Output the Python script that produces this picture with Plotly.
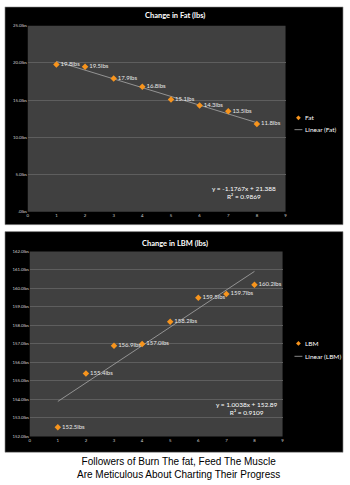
import plotly.graph_objects as go

W, H = 350, 485

# ---- data ----
weeks = [1, 2, 3, 4, 5, 6, 7, 8]
fat = [19.8, 19.5, 17.9, 16.8, 15.1, 14.3, 13.5, 11.8]
lbm = [152.5, 155.4, 156.9, 157.0, 158.2, 159.5, 159.7, 160.2]
fat_labels = ["19.8lbs", "19.5lbs", "17.9lbs", "16.8lbs", "15.1lbs", "14.3lbs", "13.5lbs", "11.8lbs"]
lbm_labels = ["152.5lbs", "155.4lbs", "156.9lbs", "157.0lbs", "158.2lbs", "159.5lbs", "159.7lbs", "160.2lbs"]
fat_fit = [-1.1767, 21.388]   # slope, intercept
lbm_fit = [1.0038, 152.89]
fat_r2 = "0.9869"
lbm_r2 = "0.9109"
x_ticks = [0, 1, 2, 3, 4, 5, 6, 7, 8, 9]
fat_yticks = [0, 5, 10, 15, 20, 25]
fat_yticktext = [".0lbs", "5.0lbs", "10.0lbs", "15.0lbs", "20.0lbs", "25.0lbs"]
lbm_yticks = [152, 153, 154, 155, 156, 157, 158, 159, 160, 161, 162]
lbm_yticktext = ["152.0lbs", "153.0lbs", "154.0lbs", "155.0lbs", "156.0lbs", "157.0lbs",
                 "158.0lbs", "159.0lbs", "160.0lbs", "161.0lbs", "162.0lbs"]

ORANGE = "#F7941D"
FONT = "Lato"


def px(x):
    return x / W


def py(y):
    return 1 - y / H


fig = go.Figure()

fit_x = [weeks[0], weeks[-1]]

# top chart
fig.add_trace(go.Scatter(x=fit_x, y=[fat_fit[0] * v + fat_fit[1] for v in fit_x], mode="lines",
                         line=dict(color="#a8a8a8", width=0.8), xaxis="x", yaxis="y",
                         showlegend=False, hoverinfo="skip"))
fig.add_trace(go.Scatter(x=weeks, y=fat, mode="markers+text", text=fat_labels,
                         textposition="middle right",
                         textfont=dict(family=FONT, size=6, color="#e8e8e8"),
                         marker=dict(symbol="diamond", size=5, color=ORANGE),
                         xaxis="x", yaxis="y", showlegend=False))
# bottom chart
fig.add_trace(go.Scatter(x=fit_x, y=[lbm_fit[0] * v + lbm_fit[1] for v in fit_x], mode="lines",
                         line=dict(color="#a8a8a8", width=0.8), xaxis="x2", yaxis="y2",
                         showlegend=False, hoverinfo="skip"))
fig.add_trace(go.Scatter(x=weeks, y=lbm, mode="markers+text", text=lbm_labels,
                         textposition="middle right",
                         textfont=dict(family=FONT, size=6, color="#e8e8e8"),
                         marker=dict(symbol="diamond", size=5, color=ORANGE),
                         xaxis="x2", yaxis="y2", showlegend=False))

shapes = []
# black panels
for (x0, y0, x1, y1) in [(4, 5, 345, 225), (4, 232, 345, 455)]:
    shapes.append(dict(type="rect", xref="paper", yref="paper", x0=px(x0), x1=px(x1),
                       y0=py(y1), y1=py(y0), fillcolor="#000000",
                       line=dict(color="#9a9a9a", width=0.6), layer="below"))
# gray plot areas
for (x0, y0, x1, y1) in [(27, 24, 287, 212), (29, 252, 284, 439)]:
    shapes.append(dict(type="rect", xref="paper", yref="paper", x0=px(x0), x1=px(x1),
                       y0=py(y1), y1=py(y0), fillcolor="#404040",
                       line=dict(width=0), layer="below"))

annotations = []


def legend(ymark, yline, name):
    # diamond marker
    cx, cy, r = 300, ymark, 2.4
    path = "M {} {} L {} {} L {} {} L {} {} Z".format(
        px(cx), py(cy - r), px(cx + r), py(cy), px(cx), py(cy + r), px(cx - r), py(cy))
    shapes.append(dict(type="path", xref="paper", yref="paper", path=path,
                       fillcolor=ORANGE, line=dict(width=0)))
    annotations.append(dict(x=px(305), y=py(ymark), xref="paper", yref="paper", text=name,
                            showarrow=False, xanchor="left", yanchor="middle",
                            font=dict(family=FONT, size=6.5, color="#ffffff")))
    shapes.append(dict(type="line", xref="paper", yref="paper", x0=px(296), x1=px(304),
                       y0=py(yline), y1=py(yline), line=dict(color="#a8a8a8", width=0.8)))
    annotations.append(dict(x=px(305), y=py(yline), xref="paper", yref="paper",
                            text="Linear (" + name + ")", showarrow=False, xanchor="left",
                            yanchor="middle", font=dict(family=FONT, size=6.5, color="#ffffff")))


legend(117, 129, "Fat")
legend(345, 358, "LBM")


def fmt_eq(fit):
    s = "y = {}x + {}".format(fit[0], fit[1])
    return s


annotations += [
    dict(x=px(175), y=py(14), xref="paper", yref="paper", text="<b>Change in Fat (lbs)</b>",
         showarrow=False, xanchor="center", yanchor="middle",
         font=dict(family=FONT, size=7.5, color="#ffffff")),
    dict(x=px(175), y=py(244), xref="paper", yref="paper", text="<b>Change in LBM (lbs)</b>",
         showarrow=False, xanchor="center", yanchor="middle",
         font=dict(family=FONT, size=7.5, color="#ffffff")),
    dict(x=px(245), y=py(192), xref="paper", yref="paper",
         text=fmt_eq(fat_fit) + "<br>R² = " + fat_r2,
         showarrow=False, xanchor="center", yanchor="middle", align="center",
         font=dict(family=FONT, size=6.5, color="#ffffff")),
    dict(x=px(248), y=py(411), xref="paper", yref="paper",
         text=fmt_eq(lbm_fit) + "<br>R² = " + lbm_r2,
         showarrow=False, xanchor="center", yanchor="middle", align="center",
         font=dict(family=FONT, size=6.5, color="#ffffff")),
    dict(x=px(179), y=py(470.5), xref="paper", yref="paper",
         text="Followers of Burn The fat, Feed The Muscle<br>Are Meticulous About Charting Their Progress",
         showarrow=False, xanchor="center", yanchor="middle", align="center",
         font=dict(family="Liberation Sans", size=10, color="#000000")),
]

tickfont = dict(family=FONT, size=4.3, color="#d0d0d0")
xcommon = dict(range=[0, 9], tickvals=x_ticks, showgrid=False, zeroline=False,
               showline=False, ticks="", tickfont=tickfont, fixedrange=True)
ycommon = dict(showgrid=True, gridcolor="#5e5e5e", gridwidth=1, zeroline=False,
               showline=False, ticks="", tickfont=tickfont, fixedrange=True)

fig.update_layout(
    width=W, height=H, margin=dict(l=0, r=0, t=0, b=0, pad=0),
    paper_bgcolor="#ffffff", plot_bgcolor="rgba(0,0,0,0)",
    showlegend=False,
    xaxis=dict(domain=[px(27), px(287)], anchor="y", **xcommon),
    yaxis=dict(domain=[py(212), py(24)], anchor="x", range=[0, 25],
               tickvals=fat_yticks, ticktext=fat_yticktext, **ycommon),
    xaxis2=dict(domain=[px(29), px(284)], anchor="y2", **xcommon),
    yaxis2=dict(domain=[py(439), py(252)], anchor="x2", range=[152, 162],
                tickvals=lbm_yticks, ticktext=lbm_yticktext, **ycommon),
    shapes=shapes, annotations=annotations,
)

fig.write_html("out.html")
